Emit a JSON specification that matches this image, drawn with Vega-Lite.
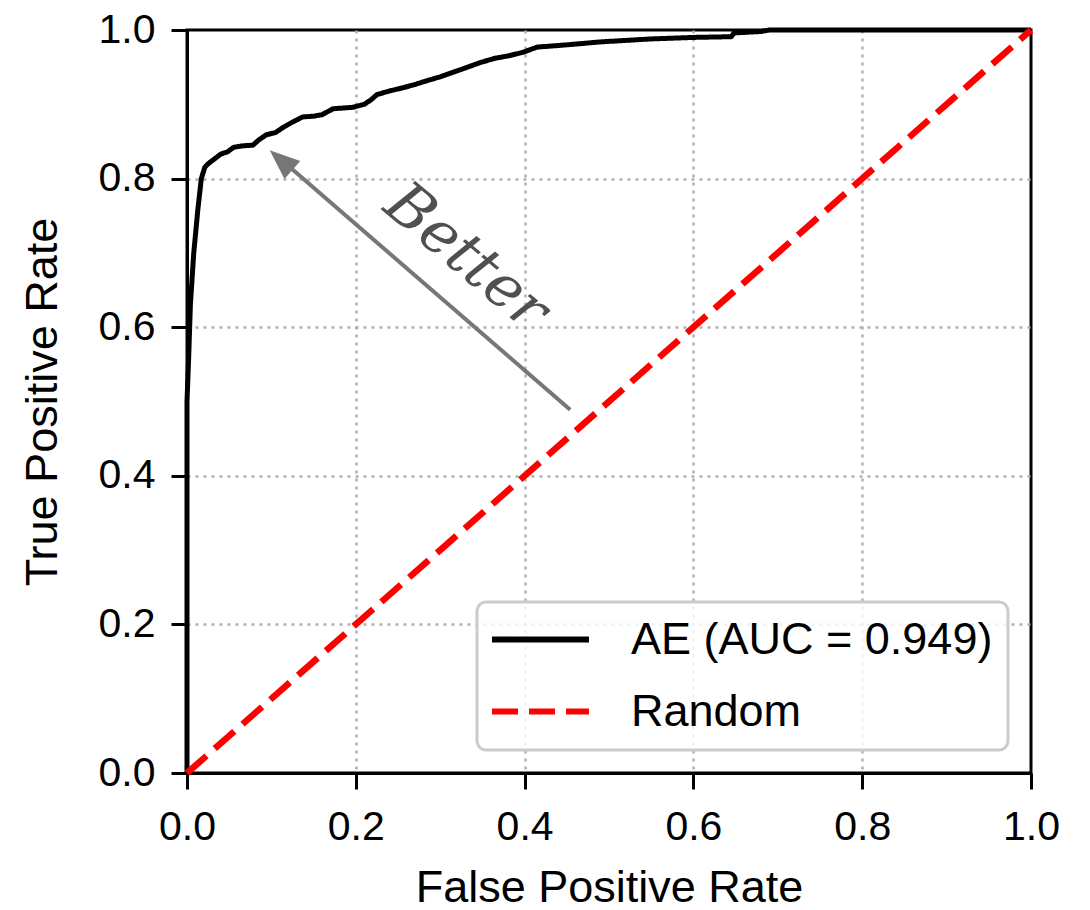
{
  "$schema": "https://vega.github.io/schema/vega-lite/v6.json",
  "width": 844,
  "height": 743,
  "autosize": {"type": "none"},
  "padding": {"left": 187, "top": 30, "right": 59, "bottom": 137},
  "background": "white",
  "config": {
    "view": {"stroke": "black", "strokeWidth": 3},
    "font": "Liberation Sans",
    "axis": {
      "labelFont": "Liberation Sans",
      "labelFontSize": 41,
      "labelColor": "black",
      "titleFont": "Liberation Sans",
      "titleFontSize": 45,
      "titleFontWeight": "normal",
      "titleColor": "black",
      "tickSize": 16,
      "tickWidth": 3,
      "tickColor": "black",
      "domainColor": "black",
      "domainWidth": 3,
      "gridColor": "#b0b0b0",
      "gridDash": [3, 5],
      "gridWidth": 2.5,
      "labelFlush": false,
      "labelOverlap": false,
      "labelPadding": 16
    },
    "legend": {
      "orient": "bottom-right",
      "offset": 23,
      "labelFontSize": 45,
      "labelFont": "Liberation Sans",
      "labelColor": "black",
      "symbolType": "M-2.5,0H2.5",
      "symbolSize": 1505,
      "symbolStrokeWidth": 6,
      "symbolOffset": 26,
      "labelOffset": 68,
      "padding": 15,
      "rowPadding": 26,
      "strokeColor": "#cccccc",
      "strokeWidth": 3,
      "cornerRadius": 9,
      "fillColor": "rgba(255,255,255,0.8)",
      "labelLimit": 600
    }
  },
  "datasets": {
    "roc": [
      {"fpr": 0, "tpr": 0, "series": "AE (AUC = 0.949)"},
      {"fpr": 0, "tpr": 0.5, "series": "AE (AUC = 0.949)"},
      {"fpr": 0.002, "tpr": 0.56, "series": "AE (AUC = 0.949)"},
      {"fpr": 0.004, "tpr": 0.63, "series": "AE (AUC = 0.949)"},
      {"fpr": 0.008, "tpr": 0.70, "series": "AE (AUC = 0.949)"},
      {"fpr": 0.013, "tpr": 0.76, "series": "AE (AUC = 0.949)"},
      {"fpr": 0.017, "tpr": 0.80, "series": "AE (AUC = 0.949)"},
      {"fpr": 0.021, "tpr": 0.815, "series": "AE (AUC = 0.949)"},
      {"fpr": 0.025, "tpr": 0.82, "series": "AE (AUC = 0.949)"},
      {"fpr": 0.032, "tpr": 0.826, "series": "AE (AUC = 0.949)"},
      {"fpr": 0.040, "tpr": 0.833, "series": "AE (AUC = 0.949)"},
      {"fpr": 0.048, "tpr": 0.836, "series": "AE (AUC = 0.949)"},
      {"fpr": 0.055, "tpr": 0.842, "series": "AE (AUC = 0.949)"},
      {"fpr": 0.065, "tpr": 0.844, "series": "AE (AUC = 0.949)"},
      {"fpr": 0.078, "tpr": 0.845, "series": "AE (AUC = 0.949)"},
      {"fpr": 0.085, "tpr": 0.852, "series": "AE (AUC = 0.949)"},
      {"fpr": 0.094, "tpr": 0.859, "series": "AE (AUC = 0.949)"},
      {"fpr": 0.105, "tpr": 0.862, "series": "AE (AUC = 0.949)"},
      {"fpr": 0.114, "tpr": 0.869, "series": "AE (AUC = 0.949)"},
      {"fpr": 0.125, "tpr": 0.876, "series": "AE (AUC = 0.949)"},
      {"fpr": 0.137, "tpr": 0.883, "series": "AE (AUC = 0.949)"},
      {"fpr": 0.150, "tpr": 0.884, "series": "AE (AUC = 0.949)"},
      {"fpr": 0.160, "tpr": 0.886, "series": "AE (AUC = 0.949)"},
      {"fpr": 0.173, "tpr": 0.894, "series": "AE (AUC = 0.949)"},
      {"fpr": 0.185, "tpr": 0.895, "series": "AE (AUC = 0.949)"},
      {"fpr": 0.197, "tpr": 0.896, "series": "AE (AUC = 0.949)"},
      {"fpr": 0.210, "tpr": 0.900, "series": "AE (AUC = 0.949)"},
      {"fpr": 0.218, "tpr": 0.906, "series": "AE (AUC = 0.949)"},
      {"fpr": 0.225, "tpr": 0.913, "series": "AE (AUC = 0.949)"},
      {"fpr": 0.240, "tpr": 0.918, "series": "AE (AUC = 0.949)"},
      {"fpr": 0.255, "tpr": 0.922, "series": "AE (AUC = 0.949)"},
      {"fpr": 0.268, "tpr": 0.926, "series": "AE (AUC = 0.949)"},
      {"fpr": 0.285, "tpr": 0.932, "series": "AE (AUC = 0.949)"},
      {"fpr": 0.300, "tpr": 0.937, "series": "AE (AUC = 0.949)"},
      {"fpr": 0.315, "tpr": 0.943, "series": "AE (AUC = 0.949)"},
      {"fpr": 0.330, "tpr": 0.949, "series": "AE (AUC = 0.949)"},
      {"fpr": 0.347, "tpr": 0.956, "series": "AE (AUC = 0.949)"},
      {"fpr": 0.365, "tpr": 0.962, "series": "AE (AUC = 0.949)"},
      {"fpr": 0.380, "tpr": 0.965, "series": "AE (AUC = 0.949)"},
      {"fpr": 0.398, "tpr": 0.970, "series": "AE (AUC = 0.949)"},
      {"fpr": 0.415, "tpr": 0.977, "series": "AE (AUC = 0.949)"},
      {"fpr": 0.450, "tpr": 0.980, "series": "AE (AUC = 0.949)"},
      {"fpr": 0.490, "tpr": 0.984, "series": "AE (AUC = 0.949)"},
      {"fpr": 0.550, "tpr": 0.988, "series": "AE (AUC = 0.949)"},
      {"fpr": 0.600, "tpr": 0.990, "series": "AE (AUC = 0.949)"},
      {"fpr": 0.645, "tpr": 0.991, "series": "AE (AUC = 0.949)"},
      {"fpr": 0.648, "tpr": 0.996, "series": "AE (AUC = 0.949)"},
      {"fpr": 0.680, "tpr": 0.998, "series": "AE (AUC = 0.949)"},
      {"fpr": 0.690, "tpr": 1.0, "series": "AE (AUC = 0.949)"},
      {"fpr": 1.0, "tpr": 1.0, "series": "AE (AUC = 0.949)"}
    ],
    "rand": [
      {"fpr": 0, "tpr": 0, "series": "Random"},
      {"fpr": 1, "tpr": 1, "series": "Random"}
    ],
    "arrow": [
      {"fpr": 0.454, "tpr": 0.489},
      {"fpr": 0.110, "tpr": 0.827}
    ],
    "head": [
      {"fpr": 0.098, "tpr": 0.838}
    ],
    "label": [
      {"fpr": 0.331, "tpr": 0.694, "text": "Better"}
    ]
  },
  "encoding": {
    "x": {
      "field": "fpr",
      "type": "quantitative",
      "scale": {"domain": [0, 1], "nice": false, "zero": false},
      "axis": {
        "values": [0, 0.2, 0.4, 0.6, 0.8, 1],
        "format": ".1f",
        "title": "False Positive Rate",
        "titlePadding": 18,
        "labelPadding": 18,
        "gridOpacity": {"condition": {"test": "datum.value <= 0 || datum.value >= 1", "value": 0}, "value": 1}
      }
    },
    "y": {
      "field": "tpr",
      "type": "quantitative",
      "scale": {"domain": [0, 1], "nice": false, "zero": false},
      "axis": {
        "values": [0, 0.2, 0.4, 0.6, 0.8, 1],
        "format": ".1f",
        "title": "True Positive Rate",
        "titlePadding": 33,
        "gridOpacity": {"condition": {"test": "datum.value <= 0 || datum.value >= 1", "value": 0}, "value": 1}
      }
    }
  },
  "layer": [
    {
      "data": {"name": "roc"},
      "mark": {"type": "line", "strokeWidth": 5, "strokeJoin": "round"},
      "encoding": {
        "color": {"field": "series", "type": "nominal", "scale": {"domain": ["AE (AUC = 0.949)", "Random"], "range": ["black", "#ff0000"]}, "legend": {"title": null}},
        "strokeDash": {"field": "series", "type": "nominal", "scale": {"domain": ["AE (AUC = 0.949)", "Random"], "range": [[1, 0], [26, 11]]}, "legend": {"title": null}}
      }
    },
    {
      "data": {"name": "rand"},
      "mark": {"type": "line", "strokeWidth": 6.5},
      "encoding": {
        "color": {"field": "series", "type": "nominal", "scale": {"domain": ["AE (AUC = 0.949)", "Random"], "range": ["black", "#ff0000"]}, "legend": {"title": null}},
        "strokeDash": {"field": "series", "type": "nominal", "scale": {"domain": ["AE (AUC = 0.949)", "Random"], "range": [[1, 0], [26, 11]]}, "legend": {"title": null}}
      }
    },
    {
      "data": {"name": "arrow"},
      "mark": {"type": "line", "color": "#777777", "strokeWidth": 4},
      "encoding": {}
    },
    {
      "data": {"name": "head"},
      "mark": {"type": "point", "shape": "M0,0L0.8,2L-0.8,2Z", "filled": true, "color": "#777777", "size": 900, "angle": 311, "opacity": 1, "strokeWidth": 0}
    },
    {
      "data": {"name": "label"},
      "mark": {"type": "text", "font": "DejaVu Serif", "fontStyle": "italic", "fontSize": 60, "angle": 40, "color": "#505050", "align": "center", "baseline": "middle"},
      "encoding": {"text": {"field": "text"}}
    }
  ]
}
